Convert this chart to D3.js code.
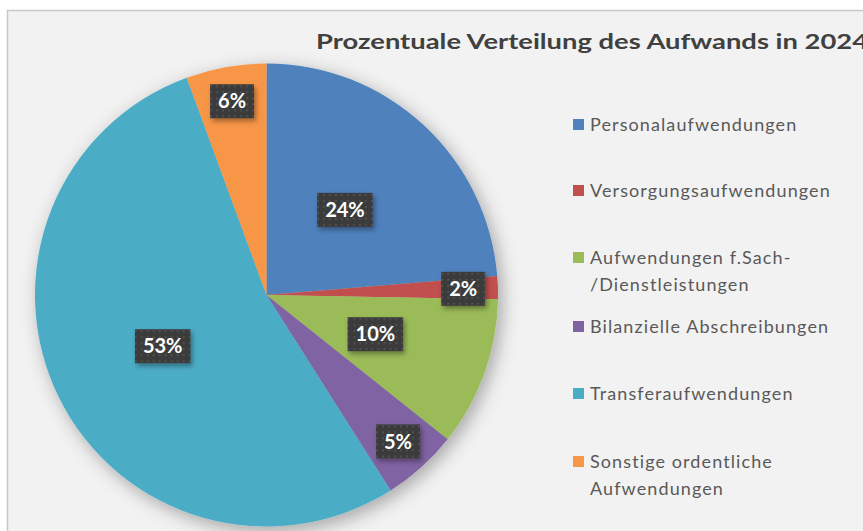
<!DOCTYPE html>
<html>
<head>
<meta charset="utf-8">
<script src="https://cdn.jsdelivr.net/npm/d3@7"></script>
<style>
  body { margin: 0; background: #fff; }
  svg { display: block; }
  text { font-family: "Lato", "Open Sans", sans-serif; }
</style>
</head>
<body>
<svg id="chart" width="863" height="531"></svg>
<script>
const categories = ["Personalaufwendungen", "Versorgungsaufwendungen", "Aufwendungen f.Sach-\n/Dienstleistungen",
  "Bilanzielle Abschreibungen", "Transferaufwendungen", "Sonstige ordentliche\nAufwendungen"];
const shares = [23.7, 1.6, 10.4, 5.3, 53.4, 5.6];
const colors = ["#4f81bd", "#c0504d", "#9bbb59", "#8064a2", "#4bacc6", "#f79646"];
const title = "Prozentuale Verteilung des Aufwands in 2024";

const svg = d3.select("#chart");
const W = 863, H = 531;
const cx = 266.5, cy = 295, r = 231.5;

const defs = svg.append("defs");
const sh = defs.append("filter").attr("id", "pieShadow")
  .attr("x", "-20%").attr("y", "-20%").attr("width", "140%").attr("height", "140%");
sh.append("feDropShadow").attr("dx", 4).attr("dy", 5).attr("stdDeviation", 9)
  .attr("flood-color", "#000").attr("flood-opacity", 0.32);
const bs = defs.append("filter").attr("id", "boxShadow")
  .attr("x", "-30%").attr("y", "-30%").attr("width", "160%").attr("height", "170%");
bs.append("feDropShadow").attr("dx", 2).attr("dy", 3).attr("stdDeviation", 2.5)
  .attr("flood-color", "#000").attr("flood-opacity", 0.35);
const pat = defs.append("pattern").attr("id", "dots")
  .attr("width", 6).attr("height", 6).attr("patternUnits", "userSpaceOnUse");
pat.append("rect").attr("width", 6).attr("height", 6).attr("fill", "#3b3b3b");
pat.append("circle").attr("cx", 3).attr("cy", 3).attr("r", 1).attr("fill", "#555");

// chart area
svg.append("rect").attr("x", 7.5).attr("y", 10.5).attr("width", W).attr("height", H)
  .attr("fill", "#f2f2f2").attr("stroke", "#c8c8c8").attr("stroke-width", 1.5);

// title
const t = svg.append("text").attr("x", 316).attr("y", 49)
  .attr("font-size", 21).attr("font-weight", 700).attr("fill", "#404040")
  .text(title);
t.attr("textLength", 552).attr("lengthAdjust", "spacingAndGlyphs");

// pie
const pie = d3.pie().sort(null).value(d => d);
const arcs = pie(shares);
const arc = d3.arc().innerRadius(0).outerRadius(r);
const g = svg.append("g").attr("transform", `translate(${cx},${cy})`);
g.append("g").attr("filter", "url(#pieShadow)")
  .selectAll("path").data(arcs).join("path")
  .attr("d", arc).attr("fill", (d, i) => colors[i]);

// labels
const fmt = d3.format(".0%");
const lab = g.selectAll("g.lab").data(arcs).join("g").attr("class", "lab")
  .attr("transform", d => {
    const f = d.data < 8 ? 0.85 : 0.5;
    const a = d3.arc().innerRadius(r * f).outerRadius(r * f);
    const [x, y] = a.centroid(d);
    return `translate(${x},${y})`;
  });
lab.each(function (d) {
  const sel = d3.select(this);
  const txt = sel.append("text").attr("text-anchor", "middle").attr("dy", "0.36em")
    .attr("font-size", 20).attr("font-weight", 700).attr("fill", "#fff")
    .text(fmt(d.data / 100));
  const w = txt.node().getComputedTextLength() + 16;
  sel.insert("rect", "text").attr("x", -w / 2).attr("y", -17).attr("width", w).attr("height", 34)
    .attr("fill", "url(#dots)").attr("filter", "url(#boxShadow)");
});

// legend
const rowY = [125, 191, 258, 327, 394, 462];
const leg = svg.append("g").selectAll("g").data(categories).join("g")
  .attr("transform", (d, i) => `translate(573,${rowY[i]})`);
leg.append("rect").attr("x", 0).attr("y", -6).attr("width", 11).attr("height", 11)
  .attr("fill", (d, i) => colors[i]);
leg.append("text").attr("x", 17).attr("font-size", 18).attr("letter-spacing", 1.1)
  .attr("fill", "#595959")
  .selectAll("tspan").data(d => d.split("\n")).join("tspan")
  .attr("x", 17).attr("y", (d, j) => j * 27).attr("dy", "0.36em").text(d => d);
</script>
</body>
</html>
